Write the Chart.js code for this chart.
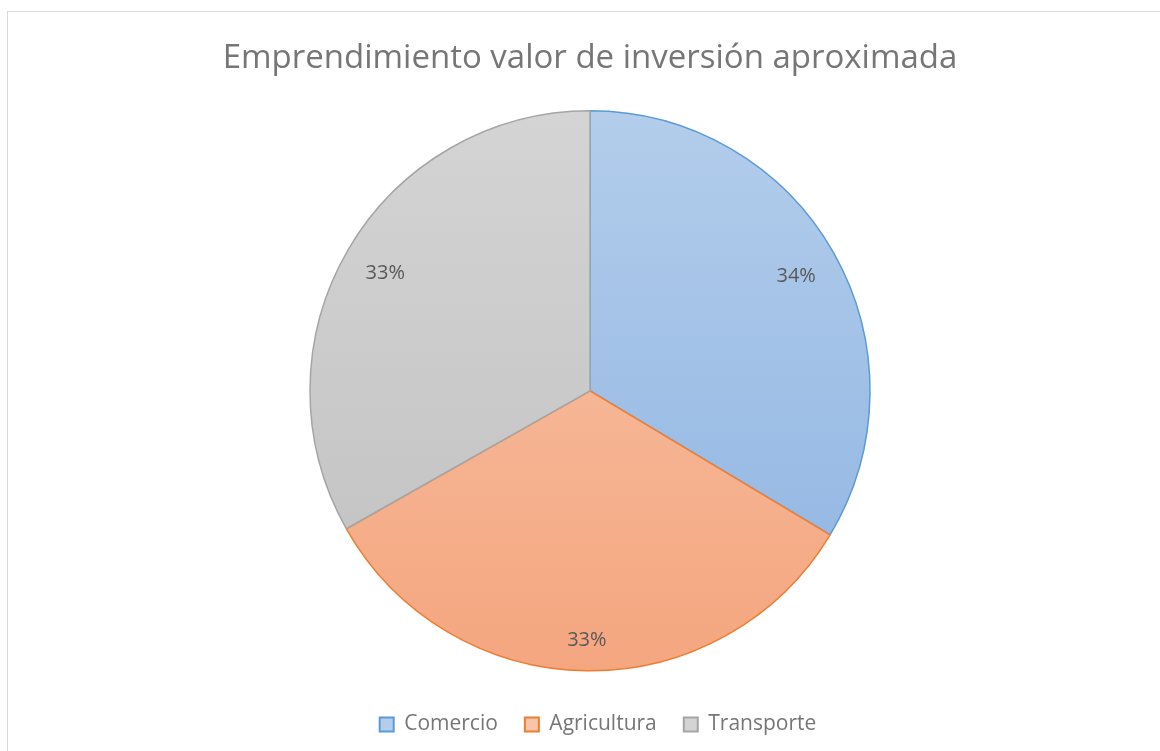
<!DOCTYPE html>
<html>
<head>
<meta charset="utf-8">
<script src="https://cdn.jsdelivr.net/npm/chart.js@4.4.0/dist/chart.umd.min.js"></script>
<style>
    body { margin: 0; background: #fff; }
    .frame {
        position: absolute;
        left: 7px;
        top: 11px;
        width: 1170px;
        height: 760px;
        border: 1px solid #d9d9d9;
        box-sizing: border-box;
    }
    canvas { position: absolute; left: 0; top: 0; }
</style>
</head>
<body>
<div class="frame"></div>
<canvas id="pieChart" width="1160" height="751"></canvas>
<script>
// Chart data
const categories = ['Comercio', 'Agricultura', 'Transporte'];
const inversion = [33.6, 33.2, 33.2];
const percentLabels = ['34%', '33%', '33%'];

const pieRadius = 280;
const fillTop = ['#b3cdeb', '#f8c5aa', '#d4d4d4'];
const fillBottom = ['#8db3e2', '#f4a67f', '#c0c0c0'];
const borders = ['#5b9bd5', '#ed7d31', '#a5a5a5'];

// Vertical gradient across the whole pie, like the Excel fill
function sliceFill(context) {
    const chart = context.chart;
    const area = chart.chartArea;
    if (!area) return fillTop[context.dataIndex];
    const cy = (area.top + area.bottom) / 2;
    const g = chart.ctx.createLinearGradient(0, cy - pieRadius, 0, cy + pieRadius);
    g.addColorStop(0, fillTop[context.dataIndex]);
    g.addColorStop(1, fillBottom[context.dataIndex]);
    return g;
}

// Draw the percentage labels inside each slice, near the outer edge
const sliceLabels = {
    id: 'sliceLabels',
    afterDatasetsDraw(chart) {
        const ctx = chart.ctx;
        const meta = chart.getDatasetMeta(0);
        ctx.save();
        ctx.font = '20px "Open Sans"';
        ctx.fillStyle = '#595959';
        ctx.textAlign = 'center';
        ctx.textBaseline = 'middle';
        meta.data.forEach((arc, i) => {
            const p = arc.getProps(['x', 'y', 'startAngle', 'endAngle', 'outerRadius'], true);
            const mid = (p.startAngle + p.endAngle) / 2;
            const halfW = ctx.measureText(percentLabels[i]).width / 2;
            const halfH = 12;
            const extent = halfW * Math.abs(Math.cos(mid)) + halfH * Math.abs(Math.sin(mid));
            const d = p.outerRadius - 20 - extent;
            ctx.fillText(percentLabels[i], p.x + Math.cos(mid) * d, p.y + Math.sin(mid) * d + 2);
        });
        ctx.restore();
    }
};

// Nudge the legend a little right and down to sit where Excel put it
const legendNudge = {
    id: 'legendNudge',
    afterLayout(chart) {
        const lg = chart.legend;
        if (!lg) return;
        lg.left += 8;
        lg.right += 8;
        lg.top += 2;
        lg.bottom += 2;
    }
};

const ctx = document.getElementById('pieChart').getContext('2d');
new Chart(ctx, {
    type: 'pie',
    data: {
        labels: categories,
        datasets: [{
            data: inversion,
            backgroundColor: sliceFill,
            borderColor: borders,
            borderWidth: 1.5,
            radius: pieRadius
        }]
    },
    options: {
        responsive: false,
        animation: false,
        layout: {
            padding: { left: 20, right: 0, top: 0, bottom: 8 }
        },
        plugins: {
            title: {
                display: true,
                text: 'Emprendimiento valor de inversión aproximada',
                color: '#767676',
                font: { family: '"Open Sans"', size: 33, weight: 'normal' },
                padding: { top: 39, bottom: 18 }
            },
            legend: {
                position: 'bottom',
                labels: {
                    color: '#767676',
                    font: { family: '"Open Sans"', size: 21 },
                    boxWidth: 14,
                    boxHeight: 14,
                    padding: 27,
                    generateLabels(chart) {
                        return categories.map((name, i) => ({
                            text: name,
                            fillStyle: fillTop[i],
                            strokeStyle: borders[i],
                            lineWidth: 2,
                            fontColor: '#767676',
                            index: i
                        }));
                    }
                }
            },
            tooltip: { enabled: false }
        }
    },
    plugins: [sliceLabels, legendNudge]
});
</script>
</body>
</html>
